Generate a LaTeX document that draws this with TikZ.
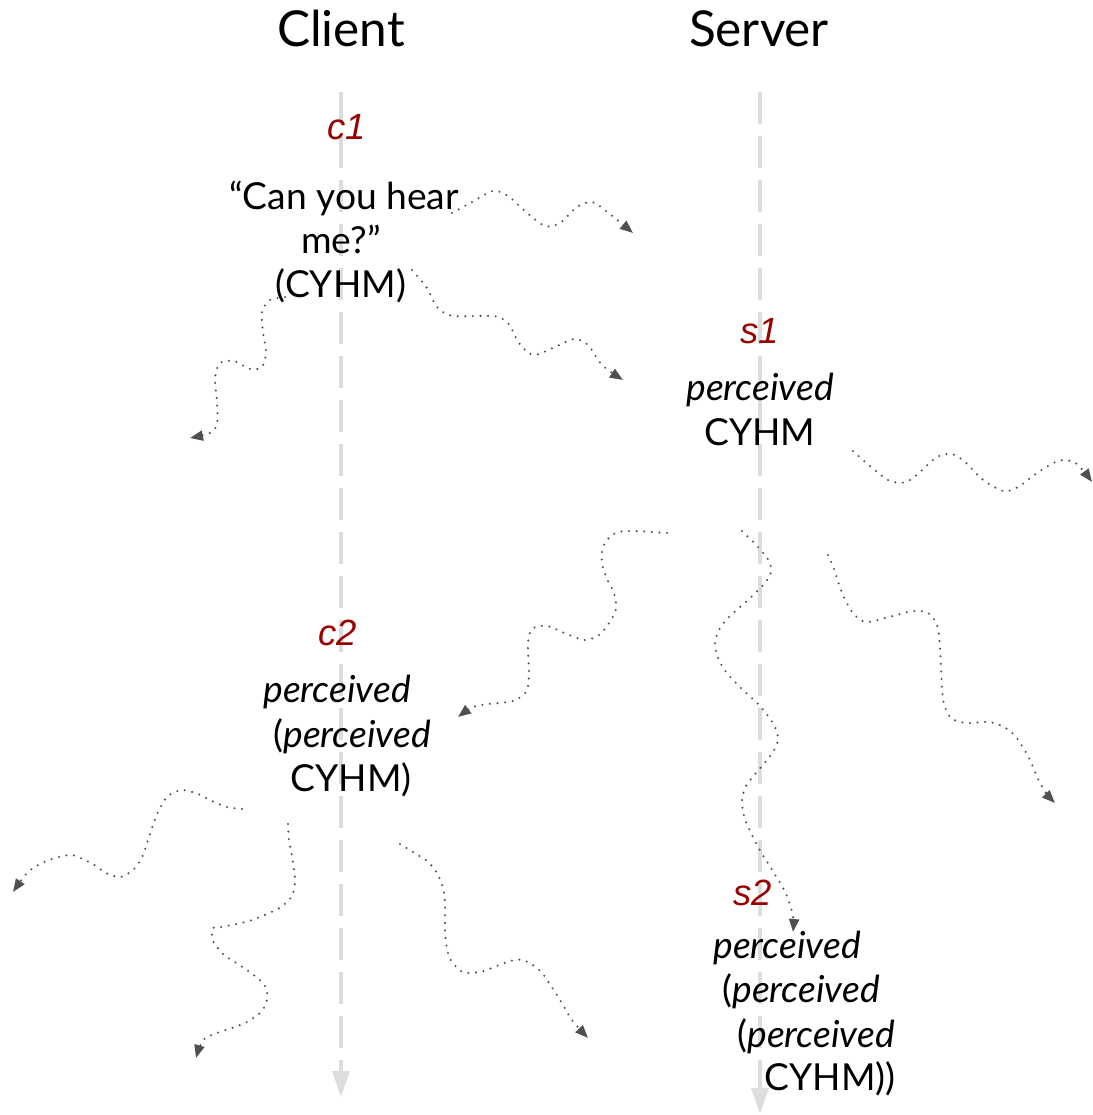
\documentclass[tikz,border=0pt]{standalone}
\usepackage{fontspec}
\setmainfont{Lato}
\newfontfamily\tagfont{Liberation Sans}
\usetikzlibrary{arrows.meta}
\definecolor{lifeline}{HTML}{DDDDDD}
\definecolor{msg}{HTML}{505050}
\definecolor{tagred}{HTML}{990000}
\begin{document}
\begin{tikzpicture}[x=1pt,y=-1pt,
  title/.style={font=\fontsize{49.5}{56}\selectfont, anchor=base, inner sep=0pt},
  body/.style={font=\fontsize{37.2}{44}\selectfont, anchor=base, inner sep=0pt},
  tag/.style={font=\tagfont\itshape\fontsize{36.5}{40}\selectfont, text=tagred, anchor=base, inner sep=0pt},
  timeline/.style={draw=lifeline, line width=4pt, dash pattern=on 32pt off 12pt,
    -{Triangle[length=26pt,width=17pt]}},
  wave/.style={draw=msg, line width=2.3pt, line cap=round, dash pattern=on 0pt off 7.6pt,
    -{Triangle[length=13pt,width=10pt]}},
]
\useasboundingbox (0,0) rectangle (1092,1115);

% lifelines
\coordinate (ctop) at (341,92);
\coordinate (cend) at (341,1097);
\coordinate (stop) at (760,92);
\coordinate (send) at (760,1114);
\draw[timeline] (ctop) -- (cend);
\draw[timeline] (stop) -- (send);

% headings
\node[title] (client) at (341,47) {Client};
\node[title] (server) at (759,47) {Server};

% client event c1
\node[tag] (c1) at (347,140) {c1};
\node[body] (c1a) at (344,210) {“Can you hear};
\node[body] (c1b) at (341,253) {me?”};
\node[body] (c1c) at (341,297) {(CYHM)};

% server event s1
\node[tag] (s1) at (760,343) {s1};
\node[body] (s1a) at (760,400) {\itshape perceived};
\node[body] (s1b) at (760,445) {CYHM};

% client event c2
\node[tag] (c2) at (338,645) {c2};
\node[body] (c2a) at (337,702) {\itshape perceived};
\node[body] (c2b) at (352,747) {(\textit{perceived}};
\node[body] (c2c) at (351,791) {CYHM)};

% server event s2
\node[tag] (s2) at (753,905) {s2};
\node[body] (s2a) at (787,958) {\itshape perceived};
\node[body] (s2b) at (801,1002) {(\textit{perceived}};
\node[body] (s2c) at (816,1047) {(\textit{perceived}};
\node[body] (s2d) at (830,1090) {CYHM))};

% messages sent at c1
\coordinate (m1s) at (452,213); \coordinate (m1e) at (633,233);
\draw[wave] plot[smooth] coordinates {(m1s) (472,202) (493,191) (508,196) (526,212) (545,226) (560,223) (577,207) (592,202) (606,211) (m1e)};

\coordinate (m2s) at (412,270); \coordinate (m2e) at (623,380);
\draw[wave] plot[smooth] coordinates {(m2s) (427,288) (437,307) (453,316) (493,316) (508,323) (519,343) (533,355) (553,348) (574,339) (588,345) (602,365) (m2e)};

\coordinate (m3s) at (285,297); \coordinate (m3e) at (190,438);
\draw[wave] plot[smooth] coordinates {(m3s) (270,300) (262,312) (263,332) (266,352) (262,367) (250,369) (234,361) (220,363) (215,378) (217,402) (217,424) (210,433) (m3e)};

% messages sent at s1
\coordinate (m4s) at (853,451); \coordinate (m4e) at (1092,482);
\draw[wave] plot[smooth] coordinates {(m4s) (871,467) (890,481) (906,482) (919,473) (937,457) (952,454) (965,462) (982,479) (1003,491) (1018,487) (1037,473) (1058,461) (1074,462) (1085,473) (m4e)};

\coordinate (m5s) at (667,533); \coordinate (m5e) at (458,717);
\draw[wave] plot[smooth] coordinates {(m5s) (627,531) (612,535) (603,547) (602,563) (607,579) (614,593) (616,609) (609,623) (599,635) (585,640) (569,635) (547,626) (532,629) (528,644) (529,676) (526,692) (513,701) (489,704) (473,707) (m5e)};

\coordinate (m6s) at (742,531); \coordinate (m6e) at (793,932);
\draw[wave] plot[smooth] coordinates {(m6s) (759,548) (769,561) (771,572) (765,583) (748,600) (730,616) (720,628) (715,643) (718,658) (726,672) (742,689) (760,706) (774,725) (778,740) (771,755) (756,773) (746,786) (742,800) (744,816) (750,831) (761,852) (774,873) (786,894) (793,916) (m6e)};

\coordinate (m7s) at (828,555); \coordinate (m7e) at (1055,803);
\draw[wave] plot[smooth] coordinates {(m7s) (834,569) (842,593) (853,613) (866,622) (889,617) (913,611) (928,613) (937,625) (940,648) (942,688) (944,704) (951,718) (966,723) (989,722) (1004,727) (1016,737) (1029,758) (1038,779) (1046,793) (m7e)};

% messages sent at c2
\coordinate (m8s) at (242,809); \coordinate (m8e) at (13,892);
\draw[wave] plot[smooth] coordinates {(m8s) (227,807) (212,801) (198,794) (182,790) (168,796) (159,810) (153,825) (148,840) (143,855) (135,868) (121,877) (106,873) (93,864) (78,857) (70,855) (55,858) (40,864) (27,873) (m8e)};

\coordinate (m9s) at (288,824); \coordinate (m9e) at (196,1058);
\draw[wave] plot[smooth] coordinates {(m9s) (289,840) (292,856) (295,880) (292,896) (281,907) (267,914) (252,920) (237,924) (221,927) (213,928) (212,936) (214,943) (224,955) (238,964) (251,973) (263,983) (267,991) (267,999) (265,1006) (260,1013) (247,1022) (232,1028) (217,1033) (203,1040) (m9e)};

\coordinate (m10s) at (400,844); \coordinate (m10e) at (588,1038);
\draw[wave] plot[smooth] coordinates {(m10s) (413,852) (427,861) (437,873) (443,888) (445,903) (445,928) (446,943) (450,959) (461,971) (469,973) (484,971) (499,965) (514,960) (522,960) (530,963) (542,973) (551,986) (560,1000) (572,1020) (m10e)};
\end{tikzpicture}
\end{document}
